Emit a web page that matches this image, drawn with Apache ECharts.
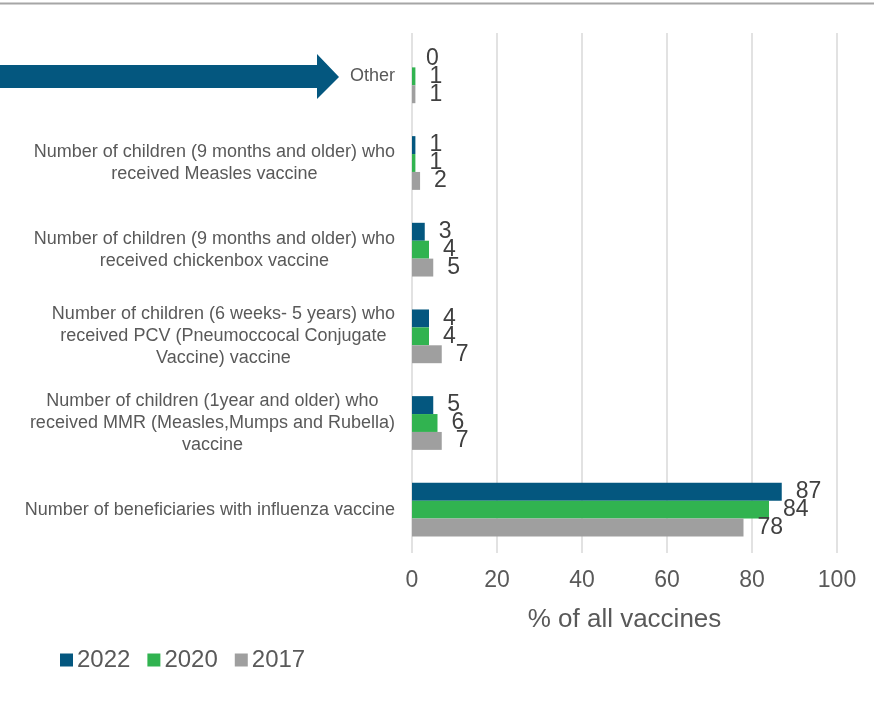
<!DOCTYPE html>
<html>
<head>
<meta charset="utf-8">
<script src="https://cdn.jsdelivr.net/npm/echarts@6/dist/echarts.min.js"></script>
<style>
  html, body { margin: 0; padding: 0; background: #fff; }
  #chart { width: 874px; height: 721px; }
</style>
</head>
<body>
<div id="chart"></div>
<script>
// categories bottom -> top
const categories = [
  'Number of beneficiaries with influenza vaccine',
  'Number of children (1year and older) who\nreceived MMR (Measles,Mumps and Rubella)\nvaccine',
  'Number of children (6 weeks- 5 years) who\nreceived PCV (Pneumoccocal Conjugate\nVaccine) vaccine',
  'Number of children (9 months and older) who\nreceived chickenbox vaccine',
  'Number of children (9 months and older) who\nreceived Measles vaccine',
  'Other'
]
const years = ['2022', '2020', '2017']
const values2022 = [87, 5, 4, 3, 0.8, 0]
const values2020 = [84, 6, 4, 4, 0.8, 0.8]
const values2017 = [78, 7, 7, 5, 1.9, 0.8]
const xTicks = [0, 20, 40, 60, 80, 100]

const COLORS = ['#04577f', '#31b350', '#9f9f9f']
const TEXT = '#595959'
const FONT = '"Liberation Sans", Arial, sans-serif'

const chart = echarts.init(document.getElementById('chart'))

const makeSeries = (name, data, color) => ({
  name,
  type: 'bar',
  data,
  barGap: '0%',
  barCategoryGap: '38%',
  itemStyle: { color },
  label: {
    show: true,
    position: 'right',
    distance: 14,
    color: '#404040',
    fontSize: 23,
    fontFamily: FONT,
    formatter: p => Math.round(p.value)
  }
})

const option = {
  animation: false,
  textStyle: { fontFamily: FONT },
  grid: { left: 412, right: 37, top: 33, bottom: 168 },
  legend: {
    data: years,
    left: 55,
    top: 643,
    icon: 'rect',
    itemWidth: 13,
    itemHeight: 13,
    itemGap: 17,
    textStyle: { color: TEXT, fontSize: 24, fontFamily: FONT, padding: [0, 0, 0, -1] }
  },
  xAxis: {
    type: 'value',
    min: xTicks[0],
    max: xTicks[xTicks.length - 1],
    interval: 20,
    name: '% of all vaccines',
    nameLocation: 'middle',
    nameGap: 54,
    nameTextStyle: { color: TEXT, fontSize: 26, fontFamily: FONT },
    axisLine: { show: false },
    axisTick: { show: false },
    axisLabel: { color: TEXT, fontSize: 23, margin: 16, fontFamily: FONT },
    splitLine: { show: true, lineStyle: { color: '#d9d9d9', width: 1.5 } }
  },
  yAxis: {
    type: 'category',
    data: categories,
    axisLine: { show: false },
    axisTick: { show: false },
    axisLabel: {
      margin: 17,
      align: 'right',
      color: TEXT,
      fontSize: 18,
      lineHeight: 22,
      fontFamily: FONT,
      formatter: v => v.split('\n').map(l => '{c|' + l + '}').join('\n'),
      rich: {
        c: { align: 'center', color: TEXT, fontSize: 18, lineHeight: 22, fontFamily: FONT }
      }
    }
  },
  series: [
    makeSeries(years[0], values2022, COLORS[0]),
    makeSeries(years[1], values2020, COLORS[1]),
    makeSeries(years[2], values2017, COLORS[2])
  ],
  graphic: [
    {
      type: 'line',
      shape: { x1: 0, y1: 3.5, x2: 874, y2: 3.5 },
      style: { stroke: '#a6a6a6', lineWidth: 2 }
    },
    {
      type: 'polygon',
      shape: { points: [[0, 65], [317, 65], [317, 54], [339, 77], [317, 99], [317, 88], [0, 88]] },
      style: { fill: '#04577f' }
    }
  ]
}

chart.setOption(option)
</script>
</body>
</html>
